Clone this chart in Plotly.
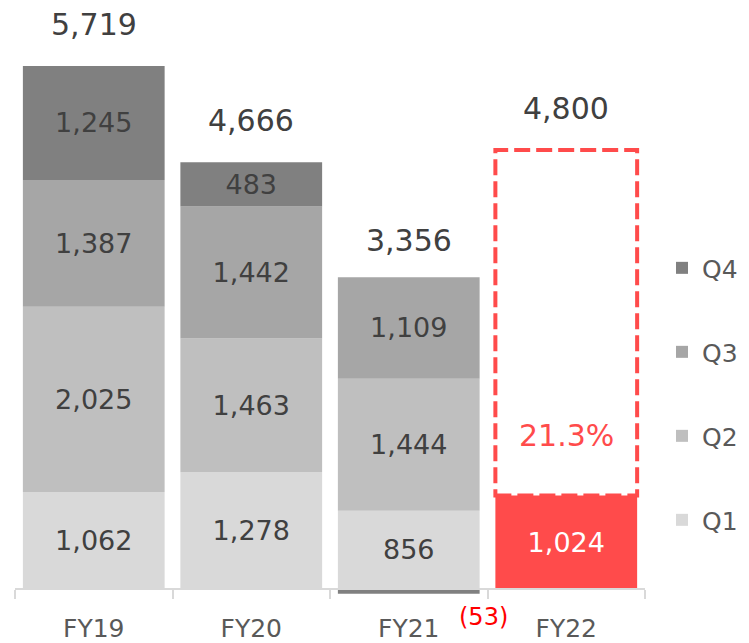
import plotly.graph_objects as go

categories = ["FY19", "FY20", "FY21", "FY22"]
q1 = [1062, 1278, 856, 1024]
q2 = [2025, 1463, 1444, None]
q3 = [1387, 1442, 1109, None]
q4 = [1245, 483, -53, None]
totals = [5719, 4666, 3356, 4800]
fy22_plan = 4800

q_names = ["Q1", "Q2", "Q3", "Q4"]
q_colors = ["#D9D9D9", "#BFBFBF", "#A6A6A6", "#808080"]
red = "#FF4B4B"
txt = "#404040"
font_family = "DejaVu Sans, Verdana, sans-serif"


def fmt(v):
    if v is None or v < 0:
        return ""
    return f"{v:,}"


fig = go.Figure()
series = [q1, q2, q3, q4]
for i, (name, vals, col) in enumerate(zip(q_names, series, q_colors)):
    colors = [col] * len(categories)
    tcolors = [txt] * len(categories)
    if name == "Q1":
        colors[3] = red
        tcolors[3] = "white"
    fig.add_trace(go.Bar(
        name=name, x=categories, y=vals,
        marker=dict(color=colors, line=dict(width=0)),
        text=[fmt(v) for v in vals],
        textposition="inside", insidetextanchor="middle",
        textfont=dict(size=27, color=tcolors, family=font_family),
        legendgroup=name, legendrank=10 - i,
        hoverinfo="skip",
    ))

# dashed outline for FY22 plan
fig.add_shape(type="rect", xref="x", yref="y",
              x0=3 - 0.45, x1=3 + 0.45, y0=q1[3], y1=fy22_plan,
              line=dict(color=red, width=4, dash="16px,6px"),
              fillcolor="rgba(0,0,0,0)", layer="above")

# totals
for c, t in zip(categories, totals):
    fig.add_annotation(x=c, y=t, text=f"{t:,}", showarrow=False,
                       yanchor="bottom", yshift=22,
                       font=dict(size=30, color=txt, family=font_family))

# progress percentage
fig.add_annotation(x="FY22", y=q1[3], text=f"{q1[3] / fy22_plan * 100:.1f}%",
                   showarrow=False, yanchor="middle", yshift=60,
                   font=dict(size=30, color=red, family=font_family))

# negative Q4 label for FY21
fig.add_annotation(x="FY21", y=0, yref="paper", text=f"({abs(q4[2])})",
                   showarrow=False, yanchor="middle", xshift=75, yshift=-17,
                   font=dict(size=24, color="#FF0000", family=font_family))

ymin, ymax = -120, 6332
zero_pos = (0 - ymin) / (ymax - ymin)

fig.update_layout(
    width=741, height=635,
    margin=dict(l=7, r=104, t=2, b=43, autoexpand=False),
    barmode="relative", bargap=0.1,
    plot_bgcolor="white", paper_bgcolor="white",
    font=dict(family=font_family, color=txt),
    showlegend=True,
    legend=dict(traceorder="grouped", tracegroupgap=48.5,
                x=1.027, xanchor="left", y=0.349, yanchor="middle",
                font=dict(size=25, color="#595959"),
                itemwidth=30),
    xaxis=dict(anchor="free", position=zero_pos, range=[-0.5, 3.5],
               showline=True, linecolor="#D9D9D9", linewidth=1.5,
               ticks="outside", tickson="boundaries", ticklen=9,
               tickcolor="#D9D9D9", tickwidth=1.5,
               ticklabelstandoff=17, automargin=False,
               tickfont=dict(size=25, color="#595959", family=font_family),
               showgrid=False, zeroline=False),
    yaxis=dict(range=[ymin, ymax], visible=False, showgrid=False,
               zeroline=False, automargin=False),
)

fig.write_html("out.html")
